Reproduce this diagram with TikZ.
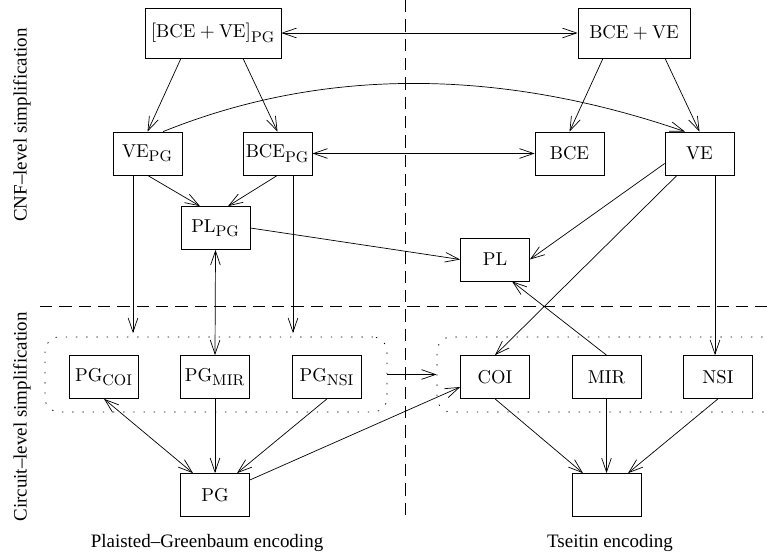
\documentclass[tikz,border=0pt]{standalone}
\usepackage{amsmath}
\usepackage{fontspec}
\newfontfamily\timesfont{Liberation Serif}
\usetikzlibrary{arrows.meta}

% subscripts a bit larger than plain script size
\newcommand{\grpsub}[1]{_{\mbox{\fontsize{8.8}{10}\selectfont #1}}}

\tikzset{
    box/.style={draw, minimum width=1.38cm, minimum height=0.86cm, inner sep=1pt, font=\fontsize{10.6}{12}\selectfont},
    bigbox/.style={box, minimum height=1.0cm},
    grpbox/.style={draw, rounded corners=8pt, dash pattern=on 0.8pt off 5pt, minimum height=1.5cm},
    sepline/.style={dash pattern=on 7pt off 4pt},
    sidetext/.style={font=\timesfont\fontsize{10.8}{12}\selectfont}
}

\begin{document}
\begin{tikzpicture}[>={Straight Barb[length=8pt,width=5.5pt]}]
    \useasboundingbox (0,0) rectangle (15.34,11.14);
    \clip (0,0) rectangle (15.34,11.14);

    % Draw the dividing lines
    \draw[sepline] (0.80,5.02) -- (15.34,5.02);
    \draw[sepline] (8.10,11.14) -- (8.10,0.84);

    % Side and bottom texts
    \node[sidetext, rotate=90] (cnflab) at (0.44,8.64) {CNF–level simplification};
    \node[sidetext, rotate=90] (circlab) at (0.44,2.80) {Circuit–level simplification};
    \node[sidetext] (pglab) at (4.14,0.28) {Plaisted–Greenbaum encoding};
    \node[sidetext] (tslab) at (12.20,0.28) {Tseitin encoding};

    % Top boxes
    \node[bigbox, minimum width=2.72cm] (bcevepg) at (4.26,10.48) {$[\mathrm{BCE}+\mathrm{VE}]\grpsub{PG}$};
    \node[bigbox, minimum width=2.24cm] (bceve) at (12.68,10.48) {$\mathrm{BCE}+\mathrm{VE}$};

    % CNF-level boxes
    \foreach \name/\x/\txt in {vepg/2.95/{$\mathrm{VE}\grpsub{PG}$}, bcepg/5.55/{$\mathrm{BCE}\grpsub{PG}$},
                               bce/11.39/{$\mathrm{BCE}$}, ve/13.99/{$\mathrm{VE}$}} {
        \node[box] (\name) at (\x,8.07) {\txt};
    }
    \node[box] (plpg) at (4.31,6.58) {$\mathrm{PL}\grpsub{PG}$};
    \node[box] (pl) at (9.90,5.95) {$\mathrm{PL}$};

    % Circuit-level groups and boxes
    \node[grpbox, minimum width=6.84cm] (grppg) at (4.32,3.65) {};
    \node[grpbox, minimum width=7.20cm] (grpts) at (12.34,3.65) {};
    \foreach \name/\x/\txt in {pgcoi/2.08/{$\mathrm{PG}\grpsub{COI}$}, pgmir/4.30/{$\mathrm{PG}\grpsub{MIR}$},
                               pgnsi/6.54/{$\mathrm{PG}\grpsub{NSI}$}, coi/9.90/{$\mathrm{COI}$},
                               mir/12.13/{$\mathrm{MIR}$}, nsi/14.36/{$\mathrm{NSI}$}} {
        \node[box] (\name) at (\x,3.60) {\txt};
    }

    % Encodings
    \node[box] (pg) at (4.30,1.24) {$\mathrm{PG}$};
    \node[box] (tseitin) at (12.13,1.24) {};

    % Arrows in the CNF part
    \draw[<->] (bcevepg.east) -- (bceve.west);
    \draw[->] ([xshift=-0.64cm]bcevepg.south) -- (vepg.north);
    \draw[->] ([xshift=0.60cm]bcevepg.south) -- (bcepg.north);
    \draw[->] ([xshift=-0.62cm]bceve.south) -- (bce.north);
    \draw[->] ([xshift=0.62cm]bceve.south) -- (ve.north);
    \draw[->] ([xshift=0.31cm]vepg.north) to[out=22, in=161, looseness=0.9] ([xshift=-0.29cm]ve.north);
    \draw[<->] (bcepg.east) -- (bce.west);
    \draw[->] (vepg.south) -- ([xshift=-0.31cm]plpg.north);
    \draw[->] (bcepg.south) -- ([xshift=0.25cm]plpg.north);
    \draw[->] (plpg.east) -- (pl.west);
    \draw[->] ([yshift=-0.2cm]ve.west) -- (pl.east);

    % Arrows down to the circuit part
    \draw[->, shorten >=2pt] ([xshift=-0.29cm]vepg.south) -- ([xshift=-0.29cm]vepg.south |- grppg.north);
    \draw[<->] (plpg.south) -- (pgmir.north);
    \draw[->, shorten >=2pt] ([xshift=0.31cm]bcepg.south) -- ([xshift=0.31cm]bcepg.south |- grppg.north);
    \draw[->] ([xshift=-0.45cm]ve.south) -- (coi.north);
    \draw[->] ([xshift=0.31cm]ve.south) -- ([xshift=0.31cm]ve.south |- nsi.north);
    \draw[->] (mir.north) -- ([xshift=0.34cm]pl.south);
    \draw[->] (grppg.east) -- (grpts.west);

    % Arrows to the encodings
    \draw[<->] (pgcoi.south) -- ([xshift=-0.44cm]pg.north);
    \draw[->] (pgmir.south) -- (pg.north);
    \draw[->] (pgnsi.south) -- ([xshift=0.44cm]pg.north);
    \draw[->] ([yshift=0.3cm]pg.east) -- ([yshift=-0.2cm]coi.west);
    \draw[->] (coi.south) -- ([xshift=-0.47cm]tseitin.north);
    \draw[->] (mir.south) -- (tseitin.north);
    \draw[->] (nsi.south) -- ([xshift=0.43cm]tseitin.north);

\end{tikzpicture}
\end{document}
